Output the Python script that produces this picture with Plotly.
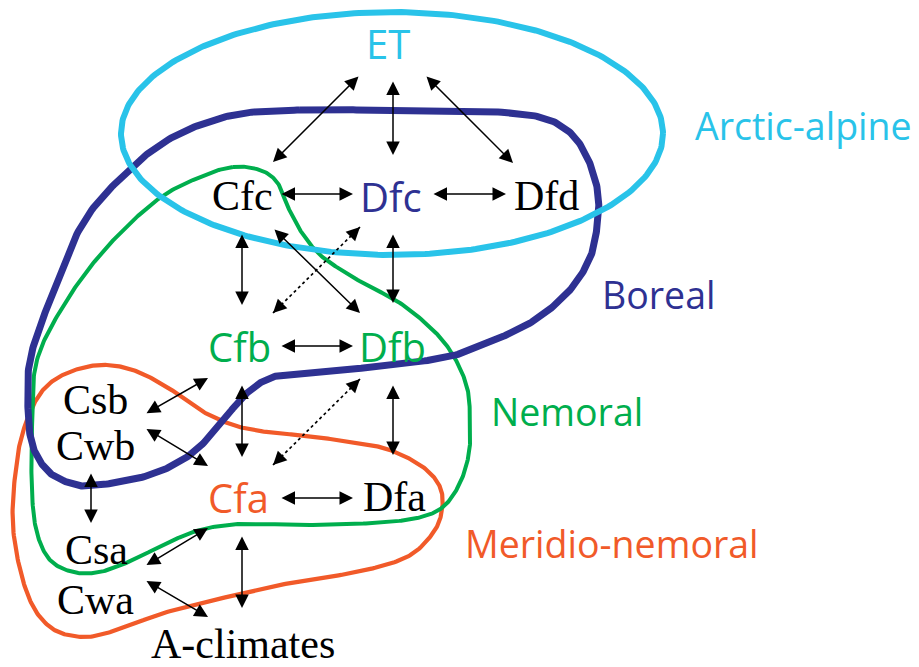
import numpy as np
import plotly.graph_objects as go

W, H = 919, 667
OFF = 8  # default page body margin

# ---- node labels ----
node_names = ["ET", "Cfc", "Dfc", "Dfd", "Cfb", "Dfb", "Csb", "Cwb", "Cfa", "Dfa", "Csa", "Cwa", "A-climates"]
node_x = [388, 242, 391, 546, 239, 392, 95, 95, 238, 394, 96, 95, 243]
node_y = [43, 196, 196, 196, 346, 346, 400, 446, 497, 497, 550, 600, 644]
node_font = ["sans", "serif", "sans", "serif", "sans", "sans", "serif", "serif", "sans", "serif", "serif", "serif", "serif"]
node_color = ["#29C3E9", "#000000", "#2E3192", "#000000", "#00AE4D", "#00AE4D", "#000000", "#000000",
              "#F15A29", "#000000", "#000000", "#000000", "#000000"]

# ---- zone labels ----
zone_names = ["Arctic-alpine", "Boreal", "Nemoral", "Meridio-nemoral"]
zone_x = [803, 658, 567, 612]
zone_y = [125, 294, 411, 543]
zone_color = ["#29C3E9", "#2E3192", "#00AE4D", "#F15A29"]

# ---- double arrows: (x0, y0, x1, y1, dotted) ----
arrow_x0 = [360, 393, 425, 280, 432, 242, 393, 273, 360, 280, 145, 145, 242, 360, 393, 280, 91, 145, 145, 242]
arrow_y0 = [75, 80, 75, 194, 194, 233, 233, 228, 227, 346, 414, 428, 384, 379, 384, 498, 472, 566, 580, 535]
arrow_x1 = [273, 393, 513, 353, 506, 242, 393, 360, 273, 353, 208, 208, 242, 273, 393, 353, 91, 208, 208, 242]
arrow_y1 = [162, 155, 163, 194, 194, 305, 303, 313, 313, 346, 378, 466, 457, 465, 455, 498, 523, 528, 617, 608]
arrow_dotted = [False] * 8 + [True] + [False] * 4 + [True] + [False] * 6

# ---- zone outlines (control points) ----
boreal_x = [300, 375, 447, 530, 567, 587, 598, 597, 590, 570, 535, 490, 447, 373, 307, 280, 260, 240, 213, 187, 150, 100, 77, 50, 33, 28, 30, 50, 83, 127, 173, 233]
boreal_y = [110, 110, 110, 115, 130, 157, 193, 227, 258, 290, 320, 342, 357, 367, 372, 375, 383, 400, 433, 457, 475, 485, 485, 473, 447, 410, 360, 300, 223, 172, 137, 115]

nemoral_x = [233, 260, 277, 287, 300, 317, 335, 363, 400, 433, 453, 467, 470, 469, 460, 443, 417, 373, 307, 240, 200, 167, 133, 100, 73, 50, 37, 32, 32, 37, 67, 107, 157, 200]
nemoral_y = [167, 170, 182, 205, 230, 252, 266, 283, 303, 330, 355, 387, 420, 453, 483, 507, 518, 523, 525, 524, 530, 543, 560, 572, 572, 560, 533, 493, 427, 360, 300, 247, 200, 177]

meridio_x = [27, 43, 67, 100, 133, 167, 200, 233, 267, 307, 357, 390, 423, 440, 442, 433, 407, 357, 300, 240, 167, 117, 83, 50, 27, 13, 17]
meridio_y = [420, 390, 373, 365, 370, 387, 410, 425, 432, 436, 443, 450, 467, 487, 510, 533, 557, 572, 581, 594, 612, 630, 637, 627, 593, 527, 460]

arctic_box = [121, 12, 663, 255]  # x0, y0, x1, y1 of ellipse


def closed_spline(xs, ys, n=24):
    P = np.array(list(zip(xs, ys)), dtype=float)
    m = len(P)
    out = []
    for i in range(m):
        p0, p1, p2, p3 = P[(i - 1) % m], P[i], P[(i + 1) % m], P[(i + 2) % m]
        for t in np.linspace(0, 1, n, endpoint=False):
            t2, t3 = t * t, t * t * t
            pt = 0.5 * ((2 * p1) + (-p0 + p2) * t + (2 * p0 - 5 * p1 + 4 * p2 - p3) * t2 + (-p0 + 3 * p1 - 3 * p2 + p3) * t3)
            out.append(pt)
    out.append(out[0])
    out = np.array(out)
    return out[:, 0], out[:, 1]


fig = go.Figure()

th = np.linspace(0, 2 * np.pi, 361)
cx = (arctic_box[0] + arctic_box[2]) / 2
cy = (arctic_box[1] + arctic_box[3]) / 2
rx = (arctic_box[2] - arctic_box[0]) / 2
ry = (arctic_box[3] - arctic_box[1]) / 2

loops = [
    (meridio_x, meridio_y, "#F15A29", 4.2),
    (nemoral_x, nemoral_y, "#00AE4D", 4.0),
    (boreal_x, boreal_y, "#2E3192", 7.0),
]
for xs, ys, col, lw in loops:
    sx, sy = closed_spline(xs, ys)
    fig.add_trace(go.Scatter(x=sx, y=sy, mode="lines", line=dict(color=col, width=lw),
                             hoverinfo="skip", showlegend=False))
fig.add_trace(go.Scatter(x=cx + rx * np.cos(th), y=cy + ry * np.sin(th), mode="lines",
                         line=dict(color="#29C3E9", width=6), hoverinfo="skip", showlegend=False))

annotations = []
shapes = []
HEAD = dict(arrowhead=2, arrowsize=1.8, arrowwidth=1.5, arrowcolor="black")
for x0, y0, x1, y1, dot in zip(arrow_x0, arrow_y0, arrow_x1, arrow_y1, arrow_dotted):
    if not dot:
        annotations.append(dict(x=x1, y=y1, ax=x0, ay=y0, xref="x", yref="y", axref="x", ayref="y",
                                text="", showarrow=True, arrowside="end+start", startarrowhead=2,
                                startarrowsize=1.8, standoff=0, startstandoff=0, **HEAD))
    else:
        shapes.append(dict(type="line", x0=x0, y0=y0, x1=x1, y1=y1, xref="x", yref="y",
                           line=dict(color="black", width=1.7, dash="3px,3px")))
        L = np.hypot(x1 - x0, y1 - y0)
        ux, uy = (x1 - x0) / L, (y1 - y0) / L
        for (px, py, sgn) in [(x1, y1, 1), (x0, y0, -1)]:
            annotations.append(dict(x=px, y=py, ax=px - sgn * ux * 10, ay=py - sgn * uy * 10,
                                    xref="x", yref="y", axref="x", ayref="y", text="",
                                    showarrow=True, standoff=0, **HEAD))

SANS = "Open Sans"
SERIF = "Liberation Serif"
for name, x, y, f, c in zip(node_names, node_x, node_y, node_font, node_color):
    annotations.append(dict(x=x, y=y, xref="x", yref="y", text=name, showarrow=False,
                            xanchor="center", yanchor="middle",
                            font=dict(family=SANS if f == "sans" else SERIF,
                                      size=40 if f == "sans" else 42, color=c)))
for name, x, y, c in zip(zone_names, zone_x, zone_y, zone_color):
    annotations.append(dict(x=x, y=y, xref="x", yref="y", text=name, showarrow=False,
                            xanchor="center", yanchor="middle",
                            font=dict(family=SANS, size=37.5, color=c)))

fig.update_layout(
    width=W - OFF, height=H - OFF, autosize=False,
    margin=dict(l=0, r=0, t=0, b=0, pad=0),
    paper_bgcolor="white", plot_bgcolor="white",
    xaxis=dict(range=[OFF, W], visible=False, fixedrange=True),
    yaxis=dict(range=[H, OFF], visible=False, fixedrange=True),
    annotations=annotations, shapes=shapes, showlegend=False,
)
fig.write_html("out.html")
